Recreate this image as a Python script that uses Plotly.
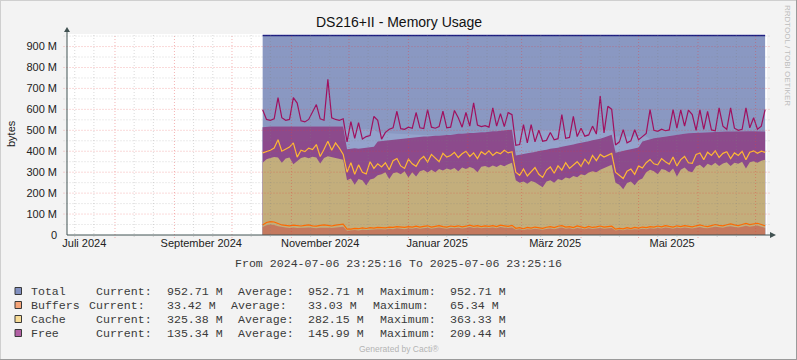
import pandas as pd
import plotly.graph_objects as go

# ---------------- data (values in M) ----------------
dates = pd.date_range("2024-10-17", periods=132, freq="2D")

total = [952.71] * 132

buffers = [38, 46, 50, 48, 42, 38, 36, 34, 36, 34,
           33, 35, 36, 34, 32, 35, 36, 35, 33, 36,
           38, 40, 20, 22, 24, 22, 25, 24, 26, 25,
           27, 28, 26, 30, 28, 32, 30, 28, 31, 30,
           33, 30, 32, 35, 30, 33, 36, 32, 30, 34,
           32, 35, 31, 34, 38, 33, 36, 32, 35, 33,
           36, 32, 38, 35, 33, 36, 25, 27, 24, 28,
           26, 30, 27, 25, 29, 31, 28, 33, 36, 30,
           32, 28, 34, 30, 27, 32, 29, 31, 34, 30,
           32, 33, 22, 25, 23, 27, 25, 28, 26, 30,
           28, 32, 30, 34, 31, 36, 33, 30, 35, 32,
           36, 33, 31, 35, 38, 34, 32, 36, 40, 37,
           35, 39, 42, 38, 36, 40, 44, 40, 42, 45,
           40, 34]

buffers_peak = [48, 60, 64, 62, 55, 48, 46, 44, 47, 44,
                43, 46, 48, 44, 42, 46, 48, 46, 43, 47,
                50, 52, 28, 28, 32, 30, 34, 31, 35, 33,
                36, 35, 34, 38, 36, 40, 38, 36, 40, 38,
                42, 38, 41, 44, 38, 42, 45, 40, 38, 43,
                40, 44, 39, 42, 47, 41, 45, 40, 44, 41,
                45, 40, 47, 44, 41, 46, 32, 35, 30, 36,
                33, 38, 34, 32, 37, 40, 35, 42, 45, 38,
                40, 35, 43, 38, 34, 41, 36, 39, 43, 38,
                40, 42, 28, 32, 29, 35, 31, 36, 33, 38,
                35, 40, 38, 43, 39, 45, 41, 38, 44, 40,
                45, 41, 39, 44, 48, 43, 40, 45, 50, 46,
                44, 49, 53, 48, 45, 50, 55, 50, 52, 56,
                50, 44]

cache_level = [345, 362, 368, 372, 370, 345, 365, 370, 338, 352,
               368, 372, 366, 374, 370, 342, 368, 376, 372, 370,
               366, 360, 262, 270, 240, 268, 262, 236, 265, 270,
               285, 290, 300, 268, 295, 300, 290, 305, 275, 300,
               280, 305, 310, 298, 312, 300, 315, 308, 318, 312,
               320, 305, 322, 315, 325, 318, 300, 326, 330, 322,
               332, 325, 335, 328, 338, 345, 262, 250, 255, 245,
               258, 252, 240, 228, 255, 262, 250, 268, 262, 275,
               270, 282, 276, 290, 285, 298, 305, 300, 312, 320,
               325, 335, 250, 240, 218, 248, 255, 238, 262, 270,
               300, 312, 305, 290, 315, 310, 298, 318, 280, 312,
               322, 305, 300, 328, 335, 320, 340, 332, 345, 330,
               342, 348, 330, 345, 340, 350, 318, 348, 352, 345,
               355, 359]

cache_peak = [392, 398, 405, 415, 455, 400, 410, 420, 440, 372,
              405, 398, 415, 408, 432, 375, 410, 448, 405, 440,
              415, 385, 300, 345, 290, 335, 300, 292, 350, 318,
              340, 325, 345, 312, 355, 365, 330, 318, 362, 340,
              328, 360, 375, 348, 385, 365, 350, 390, 372, 380,
              395, 370, 388, 400, 375, 392, 365, 398, 385, 402,
              380, 395, 388, 405, 392, 398, 300, 285, 315, 282,
              300, 322, 290, 275, 310, 325, 295, 330, 310, 345,
              318, 335, 350, 328, 362, 340, 380, 355, 385, 372,
              380, 390, 300, 285, 270, 305, 315, 290, 330, 320,
              345, 360, 340, 335, 365, 350, 338, 372, 330, 360,
              375, 345, 342, 385, 392, 360, 395, 380, 402, 370,
              390, 398, 365, 392, 380, 400, 360, 395, 402, 390,
              400, 395]

free_level = [515, 518, 518, 518, 518, 517, 518, 518, 518, 518,
              518, 518, 518, 518, 518, 518, 518, 518, 518, 518,
              518, 518, 410, 412, 414, 412, 415, 418, 420, 422,
              446, 448, 451, 455, 455, 458, 461, 461, 463, 466,
              466, 468, 470, 470, 473, 474, 474, 477, 478, 478,
              481, 483, 483, 486, 487, 487, 490, 491, 491, 494,
              496, 496, 498, 500, 500, 503, 380, 382, 387, 390,
              392, 397, 401, 403, 407, 412, 414, 417, 422, 425,
              427, 432, 437, 440, 443, 448, 453, 456, 460, 466,
              472, 479, 393, 398, 402, 406, 409, 413, 418, 446,
              452, 458, 462, 465, 468, 472, 474, 477, 480, 482,
              484, 486, 487, 489, 490, 491, 492, 492, 493, 493,
              494, 494, 494, 495, 495, 495, 496, 496, 496, 495,
              495, 494]

free_peak = [598, 552, 548, 555, 656, 560, 548, 552, 656, 630,
             545, 540, 552, 590, 623, 555, 548, 743, 560, 552,
             548, 555, 445, 542, 462, 537, 458, 470, 475, 566,
             548, 458, 490, 505, 512, 591, 508, 505, 515, 510,
             585, 512, 508, 599, 515, 510, 518, 591, 512, 515,
             595, 560, 515, 585, 520, 631, 525, 518, 522, 515,
             607, 520, 580, 518, 585, 575, 428, 432, 527, 440,
             527, 445, 500, 448, 452, 490, 455, 460, 575, 462,
             466, 567, 470, 510, 472, 478, 520, 482, 663, 488,
             615, 600, 430, 445, 503, 440, 450, 503, 455, 470,
             485, 599, 500, 495, 505, 498, 502, 599, 510, 598,
             520, 596, 575, 500, 598, 505, 590, 502, 498, 607,
             520, 505, 607, 510, 500, 505, 607, 512, 560, 505,
             520, 599]

# lighter band left above the free area after the drops (None = no band)
band_top = ([None] * 22 + [505] * 8 +
            [490, 488, 487, 486, 485, 484, 483, 482, 481, 480, 479, 478, 477, 476, 475, 474] +
            [None] * 20 + [502] * 26 + [470] * 9 + [None] * 31)

y_ticks = [0, 100, 200, 300, 400, 500, 600, 700, 800, 900]
y_ticktext = ["0", "100 M", "200 M", "300 M", "400 M", "500 M", "600 M", "700 M", "800 M", "900 M"]
x_ticks = ["2024-07-16", "2024-09-15", "2024-11-16", "2025-01-16", "2025-03-18 12:00", "2025-05-18 12:00"]
x_ticktext = ["Juli 2024", "September 2024", "November 2024", "Januar 2025", "März 2025", "Mai 2025"]

legend_rows = [
    ("Total", "Current:", "952.71 M", "Average:", "952.71 M", "Maximum:", "952.71 M"),
    ("Buffers", "Current:", "33.42 M", "Average:", "33.03 M", "Maximum:", "65.34 M"),
    ("Cache", "Current:", "325.38 M", "Average:", "282.15 M", "Maximum:", "363.33 M"),
    ("Free", "Current:", "135.34 M", "Average:", "145.99 M", "Maximum:", "209.44 M"),
]

# ---------------- styling ----------------
X_START, X_END = "2024-07-06 23:25:16", "2025-07-06 23:25:16"
Y_MAX = 960
W, H = 797, 360
L, R, T, B = 67, 767, 34, 235

C_TOTAL = "#8A98C2"
C_TOTAL_LINE = "#1C1C80"
C_BAND = "#94A3CC"
C_FREE = "#8C4A8C"
C_CACHE = "#C3AE7C"
C_BUF = "#C4795E"
L_FREE = "#A0105F"
L_CACHE = "#FFB833"
L_BUF = "#FF6A00"
BOX_COLORS = ["#8190C0", "#F5A478", "#F8DC96", "#B260A4"]
AXIS_C = "#415252"
SANS = "Liberation Sans"
MONO = "Liberation Mono"


def px(x):
    return (x - L) / (R - L)


def py(y):
    return (B - y) / (B - T)


band = [max(b if b is not None else f, f) for b, f in zip(band_top, free_level)]

fig = go.Figure()
area_specs = [
    (total, C_TOTAL, C_TOTAL_LINE, 1.5),
    (band, C_BAND, C_BAND, 0),
    (free_level, C_FREE, C_FREE, 0),
    (cache_level, C_CACHE, C_CACHE, 0),
    (buffers, C_BUF, C_BUF, 0),
]
for ys, fc, lc, lw in area_specs:
    fig.add_trace(go.Scatter(x=dates, y=ys, mode="lines", fill="tozeroy", fillcolor=fc,
                             line=dict(color=lc, width=lw), hoverinfo="skip", showlegend=False))

for ys, lc in [(buffers_peak, L_BUF), (cache_peak, L_CACHE), (free_peak, L_FREE)]:
    fig.add_trace(go.Scatter(x=dates, y=ys, mode="lines", line=dict(color=lc, width=1.2),
                             hoverinfo="skip", showlegend=False))

shapes = []
MAJ = "rgba(230,60,60,0.38)"
MIN = "rgba(130,130,130,0.30)"
DASH = "1px,2px"
# vertical grid lines (month starts = major, 11th / 21st = minor)
months = pd.date_range("2024-07-01", "2025-07-01", freq="MS")
for m in months:
    if m > pd.Timestamp(X_START):
        shapes.append(dict(type="line", xref="x", yref="paper", x0=m, x1=m, y0=-0.015, y1=1,
                           line=dict(color=MAJ, width=1, dash=DASH), layer="above"))
    for d in (10, 20):
        t = m + pd.Timedelta(days=d)
        if pd.Timestamp(X_START) < t < pd.Timestamp(X_END):
            shapes.append(dict(type="line", xref="x", yref="paper", x0=t, x1=t, y0=-0.01, y1=1,
                               line=dict(color=MIN, width=1, dash=DASH), layer="above"))
# horizontal grid lines
for v in range(50, Y_MAX, 50):
    col = MAJ if v % 100 == 0 else MIN
    shapes.append(dict(type="line", xref="paper", yref="y", x0=-0.005, x1=1.004, y0=v, y1=v,
                       line=dict(color=col, width=1, dash=DASH), layer="above"))
# axes with arrows
shapes.append(dict(type="line", xref="paper", yref="paper", x0=0, x1=0, y0=0, y1=py(30),
                   line=dict(color=AXIS_C, width=1), layer="above"))
shapes.append(dict(type="line", xref="paper", yref="paper", x0=0, x1=px(772), y0=0, y1=0,
                   line=dict(color=AXIS_C, width=1), layer="above"))
shapes.append(dict(type="path", xref="paper", yref="paper",
                   path=f"M {px(67)} {py(27)} L {px(64)} {py(32)} L {px(70)} {py(32)} Z",
                   fillcolor=AXIS_C, line=dict(color=AXIS_C, width=0), layer="above"))
shapes.append(dict(type="path", xref="paper", yref="paper",
                   path=f"M {px(776)} {py(235)} L {px(770)} {py(232)} L {px(770)} {py(238)} Z",
                   fillcolor=AXIS_C, line=dict(color=AXIS_C, width=0), layer="above"))
# outer frame
shapes.append(dict(type="line", xref="paper", yref="paper", x0=px(0), x1=px(797), y0=py(0.5), y1=py(0.5),
                   line=dict(color="#CFCFCF", width=1)))
shapes.append(dict(type="line", xref="paper", yref="paper", x0=px(0.5), x1=px(0.5), y0=py(0), y1=py(360),
                   line=dict(color="#CFCFCF", width=1)))
shapes.append(dict(type="line", xref="paper", yref="paper", x0=px(0), x1=px(797), y0=py(359.5), y1=py(359.5),
                   line=dict(color="#9A9A9A", width=1)))
shapes.append(dict(type="line", xref="paper", yref="paper", x0=px(796.5), x1=px(796.5), y0=py(0), y1=py(360),
                   line=dict(color="#9A9A9A", width=1)))
# legend boxes
for i, c in enumerate(BOX_COLORS):
    yc = 291 + 14 * i
    shapes.append(dict(type="rect", xref="paper", yref="paper", x0=px(15), x1=px(21.5),
                       y0=py(yc - 3.5), y1=py(yc + 3.5), fillcolor=c, line=dict(color="#3A3A3A", width=1)))

annotations = []


def txt(x, y, s, size=11.6, color="#3A3A3A", family=MONO, xanchor="left", angle=0):
    annotations.append(dict(x=px(x), y=py(y), xref="paper", yref="paper", text=s, showarrow=False,
                            xanchor=xanchor, yanchor="middle", textangle=angle,
                            font=dict(family=family, size=size, color=color)))


txt(398.5, 22, "DS216+II - Memory Usage", size=14, color="#111", family=SANS, xanchor="center")
txt(11, 134, "bytes", size=11, color="#222", family=SANS, xanchor="center", angle=-90)
txt(787, 56, "RRDTOOL / TOBI OETIKER", size=8, color="#BDBDBD", family=SANS, xanchor="center", angle=90)
txt(398.5, 263, "From 2024-07-06 23:25:16 To 2025-07-06 23:25:16", xanchor="center")
txt(398.5, 349, "Generated by Cacti®", size=8.5, color="#B4B4B4", family=SANS, xanchor="center")

col_x = {
    "Total": [30, 95, 166, 237, 307, 379, 449],
    "Buffers": [30, 88, 166, 230, 307, 372, 449],
    "Cache": [30, 95, 166, 237, 307, 379, 449],
    "Free": [30, 95, 166, 237, 307, 379, 449],
}
for i, row in enumerate(legend_rows):
    yc = 291 + 14 * i
    for xx, s in zip(col_x[row[0]], row):
        txt(xx - 1, yc, s)

fig.update_layout(
    width=W, height=H,
    margin=dict(l=L, r=W - R, t=T, b=H - B),
    paper_bgcolor="#F3F3F3", plot_bgcolor="#FFFFFF",
    showlegend=False, hovermode=False,
    shapes=shapes, annotations=annotations,
    xaxis=dict(type="date", range=[X_START, X_END], tickmode="array", tickvals=x_ticks,
               ticktext=x_ticktext, showgrid=False, zeroline=False, showline=False, ticks="",
               tickfont=dict(family=SANS, size=11, color="#222"), fixedrange=True),
    yaxis=dict(range=[0, Y_MAX], tickmode="array", tickvals=y_ticks, ticktext=y_ticktext,
               showgrid=False, zeroline=False, showline=False, ticks="",
               ticklabelstandoff=9,
               tickfont=dict(family=SANS, size=11, color="#222"), fixedrange=True),
)

fig.write_html("out.html", config={"displayModeBar": False})

# remove the default page margin so the figure sits at the window's top-left corner
with open("out.html", encoding="utf-8") as fh:
    html = fh.read()
html = html.replace("<head>", "<head><style>html,body{margin:0;padding:0;background:#F3F3F3;}</style>", 1)
with open("out.html", "w", encoding="utf-8") as fh:
    fh.write(html)
